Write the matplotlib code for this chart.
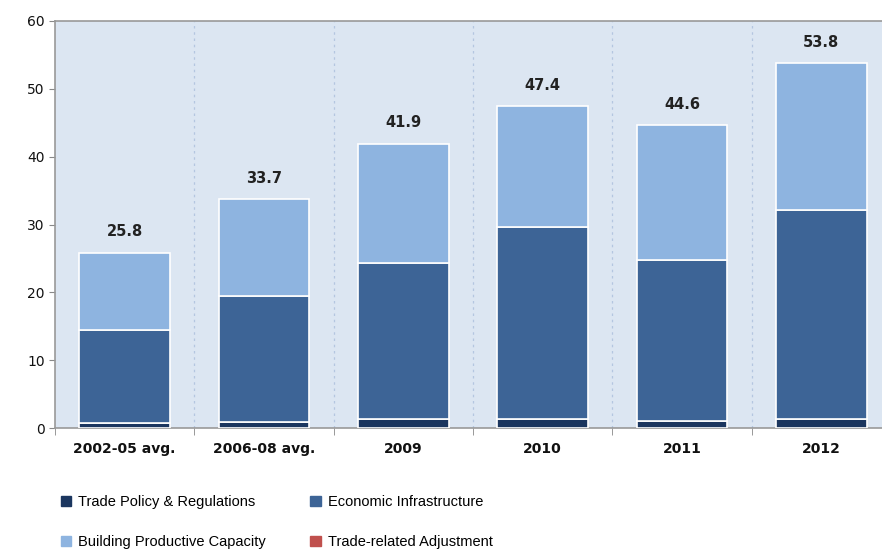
import numpy as np
import matplotlib.pyplot as plt
from matplotlib.patches import Patch

# dane
categories = ['2002-05 avg.', '2006-08 avg.', '2009', '2010', '2011', '2012']
trade_policy = [0.7, 0.95, 1.4, 1.4, 1.1, 1.4]
econ_infra = [13.8, 18.45, 22.9, 28.2, 23.7, 30.75]
building_cap = [11.3, 14.3, 17.6, 17.8, 19.8, 21.65]
trade_adj = [0.0, 0.0, 0.0, 0.0, 0.0, 0.0]
totals = [25.8, 33.7, 41.9, 47.4, 44.6, 53.8]

c_policy = '#1B365F'
c_econ = '#3D6496'
c_build = '#8EB4E0'
c_adj = '#C0504D'
bg = '#DCE6F2'

fig = plt.figure(figsize=(8.82, 5.53), dpi=100)
ax = fig.add_axes([55 / 882, 125 / 553, 836 / 882, 407 / 553])
ax.set_facecolor(bg)

x = np.arange(len(categories))
w = 0.65
b1 = np.array(trade_policy)
b2 = b1 + np.array(econ_infra)
b3 = b2 + np.array(building_cap)

ax.bar(x, trade_policy, w, color=c_policy, edgecolor='white', linewidth=1.2, zorder=3)
ax.bar(x, econ_infra, w, bottom=b1, color=c_econ, edgecolor='white', linewidth=1.2, zorder=3)
ax.bar(x, building_cap, w, bottom=b2, color=c_build, edgecolor='white', linewidth=1.2, zorder=3)
ax.bar(x, trade_adj, w, bottom=b3, color=c_adj, edgecolor='white', linewidth=0, zorder=3)

for xi, t in zip(x, totals):
    ax.text(xi, t + 3.1, f'{t:.1f}', ha='center', va='center', fontsize=10.5,
            fontweight='bold', color='#222222')

# przerywane linie miedzy kategoriami
for xb in np.arange(0.5, len(categories) - 0.5, 1):
    ax.axvline(xb, color='#B4C6E0', linestyle=(0, (2, 3)), linewidth=0.9, zorder=1)

ax.set_xlim(-0.5, len(categories) - 0.5)
ax.set_ylim(0, 60)
ax.set_yticks(range(0, 61, 10))
ax.tick_params(axis='y', labelsize=10, length=4, color='#888888', labelcolor='#111111')
ax.set_xticks(x)
ax.set_xticklabels(categories, fontsize=10, fontweight='bold', color='#111111')
ax.tick_params(axis='x', length=0, pad=10)
ax.set_xticks(np.arange(-0.5, len(categories), 1), minor=True)
ax.tick_params(axis='x', which='minor', length=5, color='#888888')

for s in ['left', 'bottom', 'top']:
    ax.spines[s].set_color('#999999')
    ax.spines[s].set_linewidth(1.2)
ax.spines['right'].set_visible(False)

# kolejnosc wierszami jak w oryginale
handles = [Patch(color=c_policy), Patch(color=c_build), Patch(color=c_econ), Patch(color=c_adj)]
labels = ['Trade Policy & Regulations', 'Building Productive Capacity',
          'Economic Infrastructure', 'Trade-related Adjustment']
leg = fig.legend(handles, labels, ncol=2, loc='lower left', bbox_to_anchor=(0.054, -0.017),
                 frameon=False, handlelength=0.7, handleheight=0.7, handletextpad=0.5,
                 columnspacing=3.05, labelspacing=1.8,
                 prop={'family': ['Liberation Sans', 'DejaVu Sans'], 'size': 10.5})

fig.savefig('out.png', dpi=100)
